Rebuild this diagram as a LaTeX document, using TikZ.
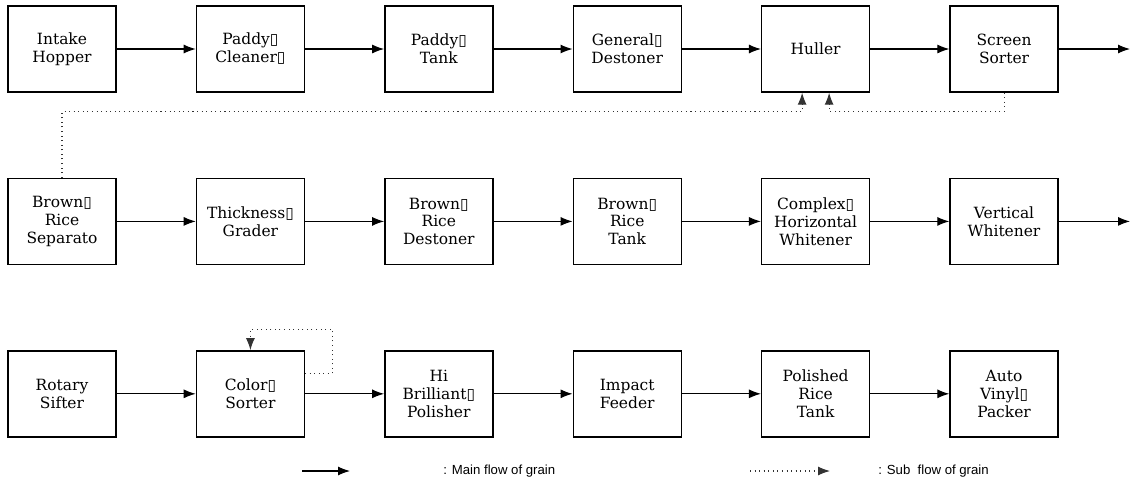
\documentclass[tikz,border=0pt]{standalone}
\usepackage{fontspec}
\setmainfont{DejaVu Serif}
\newfontfamily\legendfont{Liberation Sans}
\newfontfamily\glyphfont{DejaVu Sans}
\usetikzlibrary{positioning,arrows.meta}
\newcommand{\gx}{{\glyphfont\char"25AF}}
\tikzset{
	unit/.style={draw,line width=0.8pt,minimum width=2.16cm,minimum height=1.72cm,inner sep=1pt,align=center,font=\fontsize{8.8}{10.2}\selectfont},
	mainflow/.style={-{Latex[length=2.4mm,width=1.8mm]},line width=0.6pt},
	subflow/.style={-{Latex[length=2.4mm,width=1.8mm]},line width=0.6pt,dotted,black!80}
}
\begin{document}
\begin{tikzpicture}[node distance=1.7cm and 1.58cm]
	\useasboundingbox (0,0) rectangle (22.8,-9.6);
	% first row
	\node [unit] (intake) at (1.24,-0.98) {Intake\\Hopper};
	\node [unit,right=of intake] (cleaner) {Paddy\gx\\Cleaner\gx};
	\node [unit,right=of cleaner] (ptank) {Paddy\gx\\Tank};
	\node [unit,right=of ptank] (gdestoner) {General\gx\\Destoner};
	\node [unit,right=of gdestoner] (huller) {Huller};
	\node [unit,right=of huller] (screen) {Screen\\Sorter};
	\coordinate (out1) at (22.6,0 |- screen.east);
	% second row
	\node [unit,below=of intake] (separator) {Brown\gx\\Rice\\Separato};
	\node [unit,right=of separator] (thickness) {Thickness\gx\\Grader};
	\node [unit,right=of thickness] (bdestoner) {Brown\gx\\Rice\\Destoner};
	\node [unit,right=of bdestoner] (btank) {Brown\gx\\Rice\\Tank};
	\node [unit,right=of btank] (complex) {Complex\gx\\Horizontal\\Whitener};
	\node [unit,right=of complex] (vertical) {Vertical\\Whitener};
	\coordinate (out2) at (22.6,0 |- vertical.east);
	% third row
	\node [unit,below=of separator] (rotary) {Rotary\\Sifter};
	\node [unit,right=of rotary] (color) {Color\gx\\Sorter};
	\node [unit,right=of color] (polisher) {Hi\\Brilliant\gx\\Polisher};
	\node [unit,right=of polisher] (feeder) {Impact\\Feeder};
	\node [unit,right=of feeder] (prtank) {Polished\\Rice\\Tank};
	\node [unit,right=of prtank] (packer) {Auto\\Vinyl\gx\\Packer};
	% main flow
	\draw [mainflow] (intake) -- (cleaner);
	\draw [mainflow] (cleaner) -- (ptank);
	\draw [mainflow] (ptank) -- (gdestoner);
	\draw [mainflow] (gdestoner) -- (huller);
	\draw [mainflow] (huller) -- (screen);
	\draw [mainflow] (screen) -- (out1);
	\draw [mainflow] (separator) -- (thickness);
	\draw [mainflow] (thickness) -- (bdestoner);
	\draw [mainflow] (bdestoner) -- (btank);
	\draw [mainflow] (btank) -- (complex);
	\draw [mainflow] (complex) -- (vertical);
	\draw [mainflow] (vertical) -- (out2);
	\draw [mainflow] (rotary) -- (color);
	\draw [mainflow] (color) -- (polisher);
	\draw [mainflow] (polisher) -- (feeder);
	\draw [mainflow] (feeder) -- (prtank);
	\draw [mainflow] (prtank) -- (packer);
	% sub flow
	\draw [subflow] (separator.north) |- ([xshift=-0.27cm,yshift=-0.38cm]huller.south) -- ([xshift=-0.27cm]huller.south);
	\draw [subflow] (screen.south) -- ++(0,-0.38) -| ([xshift=0.27cm]huller.south);
	\draw [subflow] ([yshift=0.4cm]color.east) -- ++(0.54,0) |- ([yshift=0.42cm]color.north) -- (color.north);
	% legend
	\coordinate (m1) at (6.04,-9.42);
	\coordinate (m2) at (7.0,-9.42);
	\coordinate (s1) at (15.0,-9.42);
	\coordinate (s2) at (16.6,-9.42);
	\draw [mainflow] (m1) -- (m2);
	\draw [subflow] (s1) -- (s2);
	\node [anchor=west,inner sep=0pt,font=\legendfont\fontsize{7.5}{9}\selectfont] (mtext) at (8.86,-9.42) {: Main flow of grain};
	\node [anchor=west,inner sep=0pt,font=\legendfont\fontsize{7.5}{9}\selectfont] (stext) at (17.56,-9.42) {: Sub\ \ flow of grain};
\end{tikzpicture}
\end{document}
